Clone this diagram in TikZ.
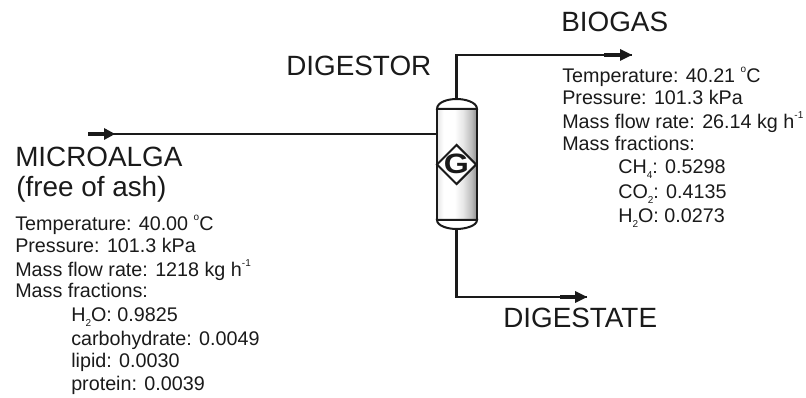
\documentclass[tikz,border=0pt]{standalone}
\usepackage{fontspec}
\setmainfont{Liberation Sans}
\usetikzlibrary{shapes.geometric}
\definecolor{ink}{HTML}{1A1A1A}
\pgfdeclarehorizontalshading{colgrad}{100bp}{color(0bp)=(black!10); color(25bp)=(black!10); color(33bp)=(white); color(47bp)=(white); color(58bp)=(black!10); color(68bp)=(black!26); color(75bp)=(black!45); color(100bp)=(black!45)}
\newcommand{\lowtxt}[1]{\raisebox{-0.45ex}{\fontsize{7.5}{8}\selectfont #1}}
\newcommand{\uptxt}[1]{\raisebox{1.05ex}{\fontsize{7.5}{8}\selectfont #1}}
\tikzset{
  pipe/.style={draw=ink,line width=1.6pt},
  big/.style={anchor=base west,inner sep=0pt,text=ink,font=\fontsize{20.9}{22}\selectfont},
  small/.style={anchor=base west,inner sep=0pt,text=ink,font=\fontsize{14.8}{16}\selectfont},
  thick part/.style={draw=ink,line width=3.2pt},
  tip/.style={fill=ink,draw=none},
}
\begin{document}
\begin{tikzpicture}[x=0.75pt,y=-0.75pt]
\useasboundingbox (0,0) rectangle (806,398);
% column
\shade[shading=colgrad] (437,109) rectangle (477,220);
\draw[ink,line width=1.5pt,fill=white] (437,109) .. controls (437,102) and (448,99) .. (456.5,99)
   .. controls (465,99) and (477,102) .. (477,109) -- cycle;
\draw[ink,line width=1.5pt,fill=white] (437,220) .. controls (437,226) and (448,229) .. (456.5,229)
   .. controls (465,229) and (477,226) .. (477,220) -- cycle;
\draw[ink,line width=1.2pt] (437,109) -- (437,220) (477,109) -- (477,220);
\node[diamond,draw=ink,fill=white,line width=1.5pt,inner sep=0pt,minimum width=30pt,minimum height=30pt,aspect=1] (g) at (456.5,164.5) {};
\node[inner sep=0pt,text=ink,font=\fontsize{21}{22}\selectfont\bfseries] (gt) at (456.5,164) {\scalebox{1.15}[1]{G}};
% anchors
\coordinate (ctop) at (456.5,99);
\coordinate (cbot) at (456.5,229);
\coordinate (cin) at (437,134);
\coordinate (inS) at (88,134);
\coordinate (inA) at (105,134);
\coordinate (inB) at (115,134);
\coordinate (upC) at (456.5,55);
\coordinate (upS) at (604,55);
\coordinate (upA) at (620,55);
\coordinate (upB) at (632,55);
\coordinate (dnC) at (456.5,297);
\coordinate (dnS) at (560,297);
\coordinate (dnA) at (575,297);
\coordinate (dnB) at (587,297);
% pipes
\draw[pipe] (inS) -- (cin);
\draw[pipe] (ctop) -- (upC) -- (upB);
\draw[pipe] (cbot) -- (dnC) -- (dnB);
\draw[thick part] (inS) -- (inA);
\draw[thick part] (upS) -- (upA);
\draw[thick part] (dnS) -- (dnA);
\fill[tip] (inB) -- ++(-11,-6) -- ++(0,12) -- cycle;
\fill[tip] (upB) -- ++(-12,-6) -- ++(0,12) -- cycle;
\fill[tip] (dnB) -- ++(-12,-6) -- ++(0,12) -- cycle;
% large labels
\node[big] (l1) at (15,167) {MICROALGA};
\node[big] (l2) at (16,197) {(free of ash)};
\node[big] (l3) at (286,76) {DIGESTOR};
\node[big] (l4) at (561,32) {BIOGAS};
\node[big] (l5) at (503,328) {DIGESTATE};
% left data
\node[small] (a1) at (15,231) {Temperature: 40.00 \uptxt{o}C};
\node[small] (a2) at (15,253) {Pressure: 101.3 kPa};
\node[small] (a3) at (15,277) {Mass flow rate: 1218 kg h\uptxt{-1}};
\node[small] (a4) at (15,298) {Mass fractions:};
\node[small] (a5) at (71,322) {H\lowtxt{2}O: 0.9825};
\node[small] (a6) at (71,346) {carbohydrate: 0.0049};
\node[small] (a7) at (71,368) {lipid: 0.0030};
\node[small] (a8) at (71,391) {protein: 0.0039};
% right data
\node[small] (b1) at (562,83) {Temperature: 40.21 \uptxt{o}C};
\node[small] (b2) at (562,105) {Pressure: 101.3 kPa};
\node[small] (b3) at (562,129) {Mass flow rate: 26.14 kg h\uptxt{-1}};
\node[small] (b4) at (562,151) {Mass fractions:};
\node[small] (b5) at (618,174) {CH\lowtxt{4}: 0.5298};
\node[small] (b6) at (618,199) {CO\lowtxt{2}: 0.4135};
\node[small] (b7) at (618,223) {H\lowtxt{2}O: 0.0273};
\end{tikzpicture}
\end{document}
